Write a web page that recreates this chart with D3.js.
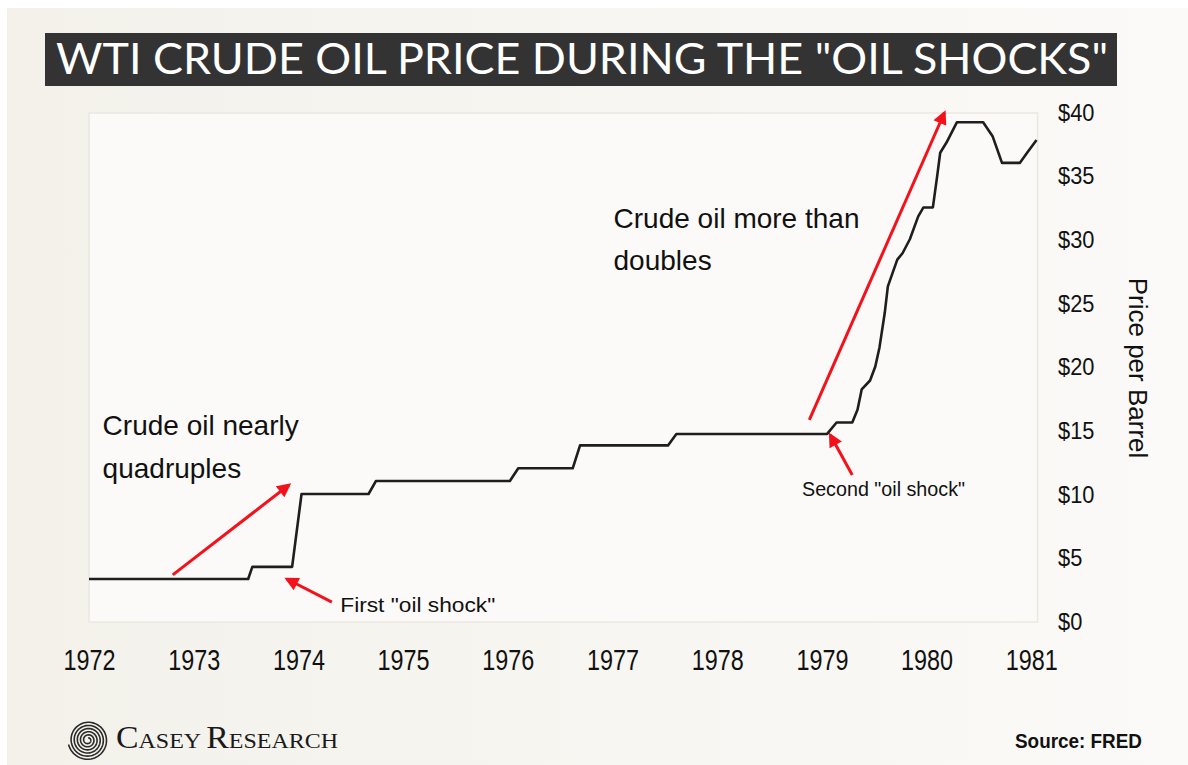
<!DOCTYPE html>
<html>
<head>
<meta charset="utf-8">
<script src="https://cdn.jsdelivr.net/npm/d3@7"></script>
<style>
  body { margin: 0; background: #fff; }
  svg { display: block; }
</style>
</head>
<body>
<script>
//WTI crude oil price (decimal years, $ per barrel)
var dates = [1972.0, 1973.52, 1973.56, 1973.94, 1974.03, 1974.67, 1974.74, 1976.02, 1976.10, 1976.62,
             1976.69, 1977.53, 1977.61, 1979.05, 1979.14, 1979.29, 1979.34, 1979.38, 1979.46, 1979.51,
             1979.55, 1979.60, 1979.63, 1979.72, 1979.77, 1979.84, 1979.92, 1979.97, 1980.06, 1980.10,
             1980.13, 1980.19, 1980.24, 1980.29, 1980.54, 1980.63, 1980.72, 1980.89, 1980.96, 1981.05];
var prices = [3.3, 3.3, 4.25, 4.25, 9.98, 9.98, 11.0, 11.0, 12.0, 12.0,
              13.8, 13.8, 14.7, 14.7, 15.6, 15.6, 16.6, 18.2, 18.9, 20.0,
              21.5, 24.2, 26.3, 28.4, 28.9, 30.0, 31.8, 32.5, 32.5, 34.9,
              36.8, 37.6, 38.4, 39.2, 39.2, 38.1, 36.0, 36.0, 36.8, 37.8];

//tick values
var years = [1972, 1973, 1974, 1975, 1976, 1977, 1978, 1979, 1980, 1981];
var priceTicks = [0, 5, 10, 15, 20, 25, 30, 35, 40];

//red arrows, [from year, from price, to year, to price]
var arrows = [
    [1972.80, 3.62, 1973.91, 10.69],
    [1974.32, 1.49, 1973.89, 3.30],
    [1978.88, 15.8, 1980.17, 39.94],
    [1979.29, 11.48, 1979.08, 14.62]
];

var title = 'WTI CRUDE OIL PRICE DURING THE "OIL SHOCKS"';

window.onload = drawChart();

function drawChart(){

    var width = 1188,
        height = 765;

    var svg = d3.select("body")
        .append("svg")
        .attr("width", width)
        .attr("height", height);

    var defs = svg.append("defs");

    //page background, a little darker on the left
    var grad = defs.append("linearGradient")
        .attr("id", "bg")
        .attr("x1", 0).attr("x2", 1).attr("y1", 0).attr("y2", 0);
    grad.append("stop").attr("offset", "0%").attr("stop-color", "#f3f1ea");
    grad.append("stop").attr("offset", "100%").attr("stop-color", "#fbfaf8");

    defs.append("marker")
        .attr("id", "head")
        .attr("viewBox", "0 0 10 10")
        .attr("refX", 8)
        .attr("refY", 5)
        .attr("markerUnits", "userSpaceOnUse")
        .attr("markerWidth", 16)
        .attr("markerHeight", 14)
        .attr("orient", "auto")
        .append("path")
        .attr("d", "M0,0 L10,5 L0,10 z")
        .attr("fill", "#f3121c");

    svg.append("rect")
        .attr("x", 7).attr("y", 8)
        .attr("width", width - 7).attr("height", height - 8)
        .attr("fill", "url(#bg)");

    //scales
    var x = d3.scaleLinear()
        .domain([1972, 1981])
        .range([89, 1031.3]);

    var y = d3.scaleLinear()
        .domain([0, 40])
        .range([621, 112]);

    //plot frame
    svg.append("rect")
        .attr("x", x(1972))
        .attr("y", y(40) + 1)
        .attr("width", x(1981.06) - x(1972))
        .attr("height", y(0) - y(40))
        .attr("fill", "#fbfaf8")
        .attr("stroke", "#ebe8e1")
        .attr("stroke-width", 1.5);

    //title bar
    svg.append("rect")
        .attr("x", 45).attr("y", 33)
        .attr("width", 1072).attr("height", 53)
        .attr("fill", "#333333");

    svg.append("text")
        .attr("x", 56)
        .attr("y", 74)
        .attr("textLength", 1052)
        .attr("lengthAdjust", "spacingAndGlyphs")
        .style("font-family", "Lato, 'Open Sans', sans-serif")
        .style("font-size", "42px")
        .attr("fill", "#ffffff")
        .text(title);

    //price line
    var line = d3.line()
        .x(function(d, i){ return x(dates[i]); })
        .y(function(d){ return y(d); });

    svg.append("path")
        .datum(prices)
        .attr("d", line)
        .attr("fill", "none")
        .attr("stroke", "#1e1e1e")
        .attr("stroke-width", 2.6)
        .attr("stroke-linejoin", "round");

    //x axis
    var gx = svg.append("g")
        .attr("transform", "translate(0,670)")
        .call(d3.axisBottom(x).tickValues(years).tickFormat(d3.format("d")).tickSize(0));
    gx.select(".domain").remove();
    gx.selectAll("text")
        .attr("y", 0)
        .attr("dy", null)
        .attr("transform", "scale(0.78,1)")
        .attr("fill", "#111")
        .style("font-family", "'Liberation Sans', Arial, sans-serif")
        .style("font-size", "30px");

    //y axis on the right
    var gy = svg.append("g")
        .attr("transform", "translate(1058,0)")
        .call(d3.axisRight(y).tickValues(priceTicks).tickFormat(function(d){ return "$" + d; }).tickSize(0));
    gy.select(".domain").remove();
    gy.selectAll("text")
        .attr("x", 0)
        .attr("dy", "0.36em")
        .attr("transform", "scale(0.95,1)")
        .attr("fill", "#111")
        .style("font-family", "'Liberation Sans', Arial, sans-serif")
        .style("font-size", "23px");

    svg.append("text")
        .attr("transform", "translate(1129,368) rotate(90)")
        .attr("text-anchor", "middle")
        .attr("fill", "#111")
        .style("font-family", "'Liberation Sans', Arial, sans-serif")
        .style("font-size", "26px")
        .text("Price per Barrel");

    //red arrows
    svg.selectAll(".arrow")
        .data(arrows)
        .enter()
        .append("line")
        .attr("class", "arrow")
        .attr("x1", function(d){ return x(d[0]); })
        .attr("y1", function(d){ return y(d[1]); })
        .attr("x2", function(d){ return x(d[2]); })
        .attr("y2", function(d){ return y(d[3]); })
        .attr("stroke", "#f3121c")
        .attr("stroke-width", 3)
        .attr("marker-end", "url(#head)");

    //annotations
    var big = svg.append("g")
        .attr("fill", "#111")
        .style("font-family", "'Liberation Sans', Arial, sans-serif")
        .style("font-size", "28px");

    var t1 = big.append("text")
        .attr("x", x(1972.13))
        .attr("y", y(14.62));
    t1.append("tspan").attr("x", x(1972.13)).text("Crude oil nearly");
    t1.append("tspan").attr("x", x(1972.13)).attr("dy", 43).text("quadruples");

    var t2 = big.append("text")
        .attr("x", x(1977.01))
        .attr("y", y(30.9));
    t2.append("tspan").attr("x", x(1977.01)).text("Crude oil more than");
    t2.append("tspan").attr("x", x(1977.01)).attr("dy", 42).text("doubles");

    var small = svg.append("g")
        .attr("fill", "#111")
        .style("font-family", "'Liberation Sans', Arial, sans-serif")
        .style("font-size", "20px");

    small.append("text")
        .attr("x", x(1974.40))
        .attr("y", y(0.71))
        .attr("textLength", 155)
        .attr("lengthAdjust", "spacingAndGlyphs")
        .text('First "oil shock"');

    small.append("text")
        .attr("x", x(1978.81))
        .attr("y", y(9.83))
        .attr("textLength", 163)
        .attr("lengthAdjust", "spacingAndGlyphs")
        .text('Second "oil shock"');

    //footer: logo and source
    var spiral = d3.lineRadial()
        .angle(function(d){ return d; })
        .radius(function(d){ return 2 + d * 0.5; });
    svg.append("path")
        .datum(d3.range(0, 36, 0.1))
        .attr("transform", "translate(88,740)")
        .attr("d", spiral)
        .attr("fill", "none")
        .attr("stroke", "#2a2a2a")
        .attr("stroke-width", 1.6);

    var logo = svg.append("text")
        .attr("x", 116)
        .attr("y", 748)
        .attr("textLength", 222)
        .attr("lengthAdjust", "spacingAndGlyphs")
        .attr("fill", "#1a1a1a")
        .style("font-family", "'Liberation Serif', 'DejaVu Serif', serif");
    logo.append("tspan").style("font-size", "31px").text("C");
    logo.append("tspan").style("font-size", "22px").text("ASEY ");
    logo.append("tspan").style("font-size", "31px").text("R");
    logo.append("tspan").style("font-size", "22px").text("ESEARCH");

    svg.append("text")
        .attr("x", 1015)
        .attr("y", 748)
        .attr("textLength", 127)
        .attr("lengthAdjust", "spacingAndGlyphs")
        .attr("fill", "#111")
        .style("font-family", "'Liberation Sans', Arial, sans-serif")
        .style("font-size", "21px")
        .style("font-weight", "bold")
        .text("Source: FRED");
}
</script>
</body>
</html>
